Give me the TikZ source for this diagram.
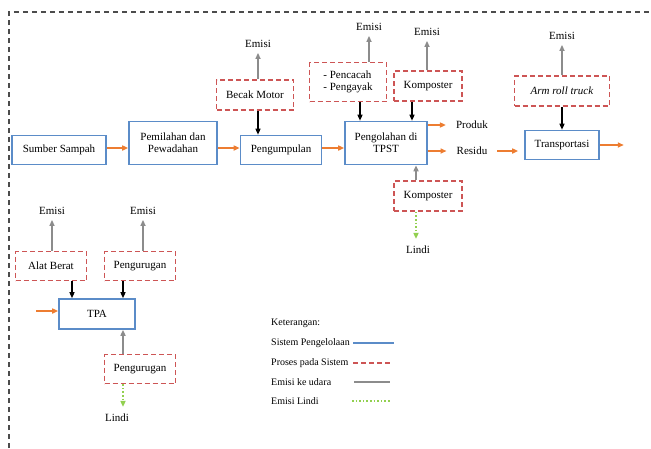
\documentclass[tikz,border=0pt]{standalone}
\usepackage{fontspec}
\setmainfont{Liberation Serif}
\usetikzlibrary{arrows.meta, positioning, calc}
\definecolor{sysblue}{RGB}{91,140,200}
\definecolor{procred}{RGB}{205,85,85}
\definecolor{flowor}{RGB}{237,125,49}
\definecolor{emgray}{RGB}{140,140,140}
\definecolor{lindigreen}{RGB}{146,208,80}
\tikzset{
	sistem/.style={draw=sysblue, line width=1.6pt, minimum height=29pt, align=center, inner sep=2pt},
	proses/.style={draw=procred, line width=1.5pt, dash pattern=on 5pt off 3pt, minimum height=30pt, align=center, inner sep=2pt},
	teks/.style={inner sep=1pt},
	alir/.style={flowor, line width=1.6pt, -{Triangle[length=6pt,width=5pt]}},
	udara/.style={emgray, line width=1.5pt, -{Triangle[length=6pt,width=5pt]}, shorten >=4pt},
	masuk/.style={black, line width=1.3pt, -{Triangle[length=6pt,width=5pt]}},
	lindi/.style={lindigreen, line width=1.6pt, dotted, -{Triangle[length=6pt,width=5pt]}, shorten >=6pt},
	ket/.style={font=\fontsize{10}{11}\selectfont, inner sep=0pt, anchor=west}
}
\begin{document}
\begin{tikzpicture}[x=1pt, y=-1pt, font=\fontsize{11}{12}\selectfont]
	\useasboundingbox (0,0) rectangle (651,448);
	\draw[black!70, line width=1.3pt, dash pattern=on 5pt off 4pt] (9,448) -- (9,12) -- (651,12);
	% alur utama
	\node[sistem, minimum width=94pt] (sumber) at (59,150) {Sumber Sampah};
	\node[sistem, minimum width=88pt, minimum height=43pt] (pemilahan) at (173,143) {Pemilahan dan\\Pewadahan};
	\node[sistem, minimum width=81pt] (pengumpulan) at (281,150) {Pengumpulan};
	\node[sistem, minimum width=82pt, minimum height=43pt] (pengolahan) at (386,143) {Pengolahan di\\TPST};
	\node[sistem, minimum width=74pt] (transport) at (562,145) {Transportasi};
	\node[sistem, minimum width=76pt, minimum height=30pt] (tpa) at (97,314) {TPA};
	% proses pada sistem
	\node[proses, minimum width=77pt] (becak) at (255,95) {Becak Motor};
	\node[proses, minimum width=77pt, minimum height=39pt, align=left] (pencacah) at (348,82) {- Pencacah\\- Pengayak};
	\node[proses, minimum width=68pt] (kompA) at (428,86) {Komposter};
	\node[proses, minimum width=68pt] (kompB) at (428,196) {Komposter};
	\node[proses, minimum width=95pt] (armroll) at (562,91) {\textit{Arm roll truck}};
	\node[proses, minimum width=71pt, minimum height=29pt] (alat) at (51,266) {Alat Berat};
	\node[proses, minimum width=71pt, minimum height=29pt] (urugA) at (140,266) {Pengurugan};
	\node[proses, minimum width=71pt, minimum height=29pt] (urugB) at (140,369) {Pengurugan};
	% teks
	\node[teks] (emBecak) at (258,44) {Emisi};
	\node[teks] (emPencacah) at (369,27) {Emisi};
	\node[teks] (emKomp) at (427,32) {Emisi};
	\node[teks] (emArm) at (562,36) {Emisi};
	\node[teks] (emAlat) at (52,211) {Emisi};
	\node[teks] (emUrug) at (143,211) {Emisi};
	\node[teks] (produk) at (472,125) {Produk};
	\node[teks] (residu) at (472,151) {Residu};
	\node[teks] (lindiA) at (418,250) {Lindi};
	\node[teks] (lindiB) at (117,418) {Lindi};
	\coordinate (tpaIn) at (36,311);
	\coordinate (keluar) at ([xshift=24pt]transport.east);
	\coordinate (pc) at ([xshift=12pt]pencacah.south);
	\coordinate (kA) at ([xshift=-16pt]kompA.south);
	\coordinate (kB) at ([xshift=-12pt]kompB.north);
	\coordinate (kBs) at ([xshift=-12pt]kompB.south);
	\coordinate (ab) at ([xshift=21pt]alat.south);
	\coordinate (uA) at ([xshift=-17pt]urugA.south);
	\coordinate (uB) at ([xshift=-17pt]urugB.north);
	\coordinate (uBs) at ([xshift=-17pt]urugB.south);
	% panah alur
	\draw[alir] ([yshift=2pt]sumber.east) -- ([yshift=2pt]sumber.east -| pemilahan.west);
	\draw[alir] ([yshift=2pt]pengumpulan.west -| pemilahan.east) -- ([yshift=2pt]pengumpulan.west);
	\draw[alir] ([yshift=2pt]pengumpulan.east) -- ([yshift=2pt]pengumpulan.east -| pengolahan.west);
	\draw[alir, shorten >=9pt] (produk.west -| pengolahan.east) -- (produk.west);
	\draw[alir, shorten >=9pt] (residu.west -| pengolahan.east) -- (residu.west);
	\draw[alir, shorten <=9pt, shorten >=6pt] (residu.east) -- (residu.east -| transport.west);
	\draw[alir] (transport.east) -- (keluar);
	\draw[alir] (tpaIn) -- (tpaIn -| tpa.west);
	% emisi ke udara
	\foreach \kotak/\em in {becak/emBecak, pencacah/emPencacah, kompA/emKomp, armroll/emArm, alat/emAlat, urugA/emUrug}
		\draw[udara] (\kotak.north -| \em) -- (\em);
	\draw[udara, shorten >=0pt] (kB) -- (kB |- pengolahan.south);
	\draw[udara, shorten >=0pt] (uB) -- (uB |- tpa.south);
	% masukan proses
	\draw[masuk] (becak.south -| emBecak) -- (pengumpulan.north -| emBecak);
	\draw[masuk] (pc) -- (pc |- pengolahan.north);
	\draw[masuk] (kA) -- (kA |- pengolahan.north);
	\draw[masuk] (armroll) -- (transport);
	\draw[masuk] (ab) -- (ab |- tpa.north);
	\draw[masuk] (uA) -- (uA |- tpa.north);
	% lindi
	\draw[lindi] (kBs) -- (kBs |- lindiA.north);
	\draw[lindi] (uBs) -- (uBs |- lindiB.north);
	% keterangan
	\node[ket] (keterangan) at (271,323) {Keterangan:};
	\node[ket] (lgSistem) at (271,343) {Sistem Pengelolaan};
	\node[ket] (lgProses) at (271,363) {Proses pada Sistem};
	\node[ket] (lgUdara) at (271,382) {Emisi ke udara};
	\node[ket] (lgLindi) at (271,401) {Emisi Lindi};
	\draw[sysblue, line width=1.6pt] (353,343) -- (394,343);
	\draw[procred, line width=1.5pt, dash pattern=on 5pt off 3pt] (353,363) -- (392,363);
	\draw[emgray, line width=1.5pt] (354,382) -- (390,382);
	\draw[lindigreen, line width=1.6pt, dotted] (352,401) -- (391,401);
\end{tikzpicture}
\end{document}
